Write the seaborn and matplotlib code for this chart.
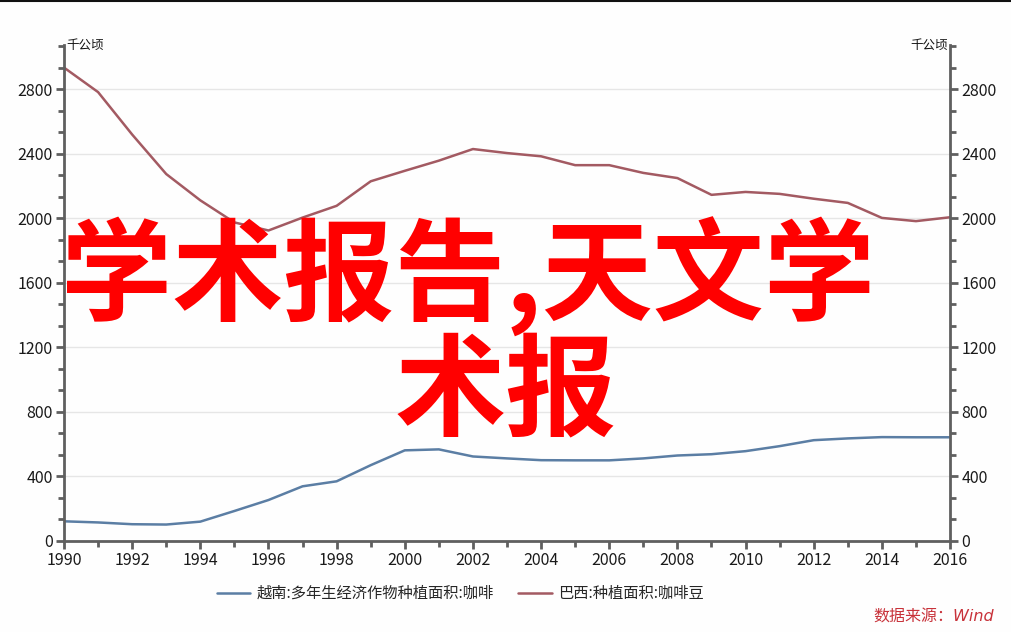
import numpy as np
import pandas as pd
import matplotlib
matplotlib.use("Agg")
import matplotlib.pyplot as plt
from matplotlib.ticker import MultipleLocator
from matplotlib.lines import Line2D
import seaborn as sns

years = list(range(1990, 2017))
vietnam = [122, 115, 104, 102, 120, 186, 254, 339, 370, 470, 562, 568, 524,
           512, 501, 500, 500, 512, 530, 538, 557, 588, 625, 636, 644, 643, 643]
brazil = [2935, 2783, 2520, 2275, 2112, 1975, 1925, 2005, 2078, 2230, 2295, 2358, 2430,
          2405, 2385, 2330, 2330, 2282, 2250, 2146, 2164, 2152, 2122, 2096, 2003, 1983, 2007]
series_names = ["越南:多年生经济作物种植面积:咖啡", "巴西:种植面积:咖啡豆"]
series_colors = ["#5b7ea4", "#a35a62"]
unit_label = "千公顷"
watermark_1 = "学术报告,天文学"
watermark_2 = "术报"
source_text = "数据来源：Wind"

df = pd.DataFrame({
    "year": years * 2,
    "value": vietnam + brazil,
    "series": [series_names[0]] * len(years) + [series_names[1]] * len(years),
})

sns.set_theme(style="white")
plt.rcParams["font.family"] = ["Noto Sans CJK SC", "DejaVu Sans"]

fig = plt.figure(figsize=(10.11, 6.32), dpi=100)
fig.patch.set_facecolor("#fefefe")
ax = fig.add_axes([0.0633, 0.144, 0.8764, 0.7848])
ax.set_facecolor("#fefefe")

sns.lineplot(data=df, x="year", y="value", hue="series", hue_order=series_names,
             palette=series_colors, linewidth=1.8, ax=ax, legend=False)

ymax = 3075
ax.set_xlim(1990, 2016)
ax.set_ylim(0, ymax)
ax.xaxis.set_major_locator(MultipleLocator(2))
ax.xaxis.set_minor_locator(MultipleLocator(1))
ax.yaxis.set_major_locator(MultipleLocator(400))
ax.yaxis.set_minor_locator(MultipleLocator(400 / 3))
ax.grid(axis="y", which="major", color="#e6e6e6", linewidth=1)
ax.set_axisbelow(True)
spine_c = "#5f5f5f"
for s in ["left", "bottom"]:
    ax.spines[s].set_color(spine_c)
    ax.spines[s].set_linewidth(2)
for s in ["top", "right"]:
    ax.spines[s].set_visible(False)
ax.tick_params(axis="both", which="major", direction="out", length=6, width=2,
               color=spine_c, labelsize=11.5, labelcolor="#1a1a1a", pad=2)
ax.tick_params(axis="both", which="minor", direction="out", length=4, width=2,
               color=spine_c)
ax.tick_params(axis="x", which="both", bottom=True)
ax.tick_params(axis="y", which="both", left=True)
ax.set_xlabel("")
ax.set_ylabel("")

ax2 = ax.twinx()
ax2.set_ylim(0, ymax)
ax2.yaxis.set_major_locator(MultipleLocator(400))
ax2.yaxis.set_minor_locator(MultipleLocator(400 / 3))
for s in ["left", "top", "bottom"]:
    ax2.spines[s].set_visible(False)
ax2.spines["right"].set_color(spine_c)
ax2.spines["right"].set_linewidth(2)
ax2.tick_params(axis="y", which="major", direction="out", length=6, width=2,
                color=spine_c, labelsize=11.5, labelcolor="#1a1a1a", pad=2)
ax2.tick_params(axis="y", which="minor", direction="out", length=4, width=2,
                color=spine_c)
ax2.grid(False)

ax.text(0.003, 1.0, unit_label, transform=ax.transAxes, ha="left", va="center",
        fontsize=9, color="#111111")
ax.text(0.997, 1.0, unit_label, transform=ax.transAxes, ha="right", va="center",
        fontsize=9, color="#111111")

# legend
handles = [Line2D([0], [0], color=c, lw=1.8) for c in series_colors]
fig.legend(handles, series_names, loc="center", bbox_to_anchor=(0.455, 0.061),
           ncol=2, frameon=False, fontsize=11, handlelength=2.2, columnspacing=1.6,
           handletextpad=0.4)

fig.text(0.983, 0.012, source_text, ha="right", va="bottom", fontsize=11.5,
         color="#c8323a", style="italic", family=["DejaVu Sans", "Noto Sans CJK SC"])

# watermark
fig.text(0.463, 0.562, watermark_1, ha="center", va="center", fontsize=80,
         color="#ff0000", fontweight="bold")
fig.text(0.500, 0.376, watermark_2, ha="center", va="center", fontsize=80,
         color="#ff0000", fontweight="bold")

# top border line
fig.add_artist(plt.Line2D([0, 1], [0.999, 0.999], transform=fig.transFigure,
                          color="#111111", lw=1.5))

fig.savefig("out.png", dpi=100, facecolor=fig.get_facecolor())
